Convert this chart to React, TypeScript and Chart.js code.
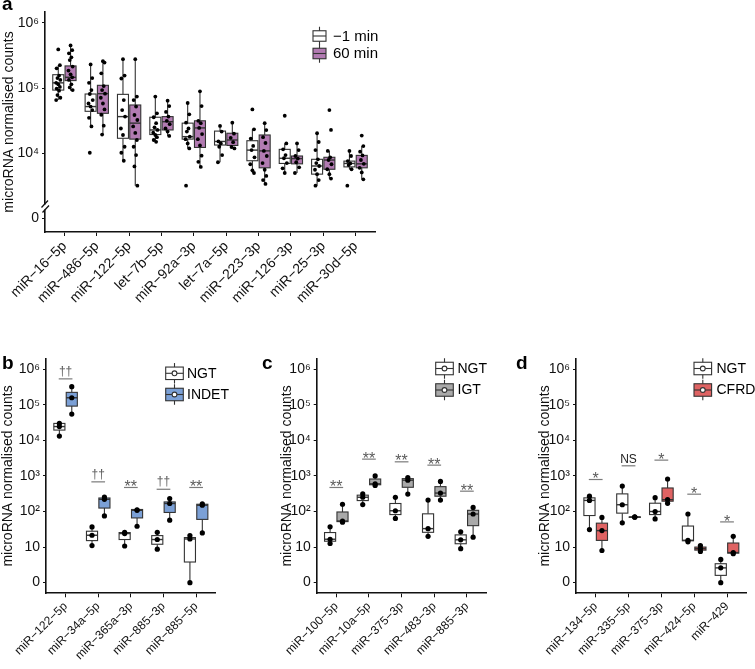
import React, { useEffect, useRef } from 'react';
import { Chart, registerables } from 'chart.js';
Chart.register(...registerables);

const FONT = '"Liberation Sans", Arial, Helvetica, sans-serif';
const M = '\u2212';

// ---------------- Panel a data ----------------
const catsA = [`miR${M}16${M}5p`, `miR${M}486${M}5p`, `miR${M}122${M}5p`, `let${M}7b${M}5p`, `miR${M}92a${M}3p`,
  `let${M}7a${M}5p`, `miR${M}223${M}3p`, `miR${M}126${M}3p`, `miR${M}25${M}3p`, `miR${M}30d${M}5p`];
// [whisker low, Q1, median, Q3, whisker high]
const statsPre = [
  [65500, 93000, 120000, 160000, 224000],
  [25800, 44000, 52000, 81000, 230000],
  [7700, 17000, 36500, 80000, 277000],
  [15000, 19400, 22800, 35700, 74000],
  [11900, 16500, 18000, 29000, 59000],
  [7300, 13400, 15200, 21900, 26300],
  [5000, 7700, 11200, 15600, 23300],
  [5000, 7000, 8400, 11500, 14200],
  [3200, 4800, 6400, 8100, 20300],
  [5700, 6200, 7000, 7600, 10900],
];
const statsPost = [
  [91000, 130000, 146000, 218000, 450000],
  [19400, 41000, 82000, 110000, 258000],
  [3200, 16500, 29000, 55000, 277000],
  [18500, 22800, 30500, 36500, 64000],
  [6200, 12300, 24500, 31500, 89000],
  [11900, 13200, 16000, 20300, 29500],
  [3400, 6000, 10900, 19100, 29000],
  [5000, 6900, 8300, 9100, 14200],
  [4100, 5700, 7900, 8700, 10900],
  [4000, 6000, 6900, 9300, 12900],
];
const pointsPre = [
  [390000, 224000, 200000, 155000, 142000, 133000, 120000, 114000, 104000, 98000, 91000, 78000, 71000, 65500],
  [230000, 142000, 120000, 93000, 81000, 65500, 58000, 52000, 46000, 35000, 25800, 10200],
  [277000, 155000, 140000, 65500, 46000, 36500, 24000, 19100, 12600, 10200, 7700],
  [74000, 41000, 35700, 29000, 25000, 22800, 20700, 19100, 17700, 16000, 15000],
  [59000, 39600, 29500, 24000, 21500, 18000, 16500, 14200, 11900, 3200],
  [26300, 21500, 15200, 14200, 12600, 9400, 7300],
  [47000, 23300, 16800, 13000, 11200, 8700, 6800, 5500, 5000],
  [37600, 14200, 11500, 9400, 8400, 7100, 5900, 5000],
  [20300, 14900, 11200, 8100, 7100, 6400, 5600, 4800, 3900, 3200],
  [10900, 9100, 7600, 7000, 6600, 5700, 3200],
];
const pointsPost = [
  [450000, 380000, 340000, 295000, 268000, 213000, 185000, 162000, 146000, 133000, 114000, 102000, 93000],
  [258000, 245000, 168000, 107000, 93000, 82000, 71000, 58000, 47000, 39000, 26500, 19400],
  [277000, 74000, 65500, 52000, 38600, 32400, 25800, 20500, 16000, 12600, 9400, 6300, 3200],
  [64000, 53000, 43000, 36500, 31500, 28000, 24000, 21500, 18500],
  [89000, 53000, 31500, 29000, 24500, 19700, 16500, 13200, 9200, 7400, 6200],
  [29500, 20000, 17300, 14800, 12500, 11900],
  [29000, 22700, 17700, 14400, 10900, 9100, 7100, 5600, 4500, 3900, 3400],
  [14200, 11200, 9100, 8300, 7300, 6100, 5000],
  [46000, 22800, 10900, 8700, 7900, 6800, 5700, 4800, 4100],
  [18700, 12900, 10600, 9300, 7900, 6900, 6000, 5100, 4000],
];
const ticksA = [1e3, 1e4, 1e5, 1e6];
const tickLabelsA = ['0', '10\u2074', '10\u2075', '10\u2076'];

// ---------------- Panels b-d shared ticks ----------------
const ticksBD = [1, 10, 100, 1e3, 1e4, 1e5, 1e6];
const tickLabelsBD = ['0', '10', '10\u00B2', '10\u00B3', '10\u2074', '10\u2075', '10\u2076'];

// ---------------- Panel b ----------------
const catsB = [`miR${M}122${M}5p`, `miR${M}34a${M}5p`, `miR${M}365a${M}3p`, `miR${M}885${M}3p`, `miR${M}885${M}5p`];
const statsNgtB = [
  [13200, 19500, 24500, 30000, 30000],
  [11, 15.2, 21.5, 27.9, 36.8],
  [10.7, 16.3, 24, 25.6, 26],
  [8.7, 12, 16.3, 21, 26],
  [0, 3.8, 16.9, 18.5, 21],
];
const statsIndetB = [
  [55000, 92000, 158000, 224000, 324000],
  [75, 125, 220, 240, 255],
  [38.5, 66, 108, 114, 115],
  [57, 94, 168, 186, 232],
  [25, 60, 150, 160, 165],
];
const pointsNgtB = [[30000, 24500, 13200], [36.8, 21.5, 11], [26, 24, 10.7], [26, 16.3, 8.7], [21, 16.9, 0]];
const pointsIndetB = [[324000, 158000, 55000], [255, 220, 75], [112, 108, 38.5], [232, 168, 57], [165, 150, 25]];
const sigTextB = ['\u2020\u2020', '\u2020\u2020', '**', '\u2020\u2020', '**'];
const sigLevelB = [537000, 682, 474, 422, 474];

// ---------------- Panel c ----------------
const catsC = [`miR${M}100${M}5p`, `miR${M}10a${M}5p`, `miR${M}375${M}3p`, `miR${M}483${M}3p`, `miR${M}885${M}3p`];
const statsNgtC = [
  [12.6, 14.6, 16.6, 25.6, 37],
  [157, 203, 252, 288, 313],
  [64, 82, 105, 168, 250],
  [20, 26, 33, 86, 210],
  [9, 12.4, 16, 22, 27],
];
const statsIgtC = [
  [50, 52, 54, 97, 160],
  [540, 565, 600, 820, 1000],
  [310, 480, 760, 840, 900],
  [210, 269, 330, 500, 700],
  [19, 40, 85, 108, 130],
];
const pointsNgtC = [[37, 16.6, 12.6], [313, 252, 157], [250, 105, 64], [210, 33, 20], [27, 16, 9]];
const pointsIgtC = [[160, 54, 50], [1000, 600, 540], [900, 760, 310], [700, 330, 210], [130, 85, 19]];
const sigTextC = ['**', '**', '**', '**', '**'];
const sigLevelC = [474, 2972, 2495, 2014, 373];

// ---------------- Panel d ----------------
const catsD = [`miR${M}134${M}5p`, `miR${M}335${M}5p`, `miR${M}375${M}3p`, `miR${M}424${M}5p`, `miR${M}429`];
const statsNgtD = [
  [31, 77, 205, 242, 270],
  [48, 90, 155, 313, 520],
  [62, 82, 100, 171, 245],
  [14, 15, 15.5, 39, 85],
  [0, 1.6, 2.6, 3.4, 4.5],
];
const statsCfrdD = [
  [8, 15.4, 29, 47, 68],
  [68, 69, 70, 70.5, 71],
  [170, 195, 215, 459, 820],
  [7.5, 8.2, 9, 10, 11],
  [6.5, 6.75, 7, 13, 20],
];
const pointsNgtD = [[270, 205, 31], [520, 155, 48], [245, 100, 62], [85, 15.5, 14], [4.5, 2.6, 0]];
const pointsCfrdD = [[68, 29, 8], [71, 70, 69], [820, 215, 170], [11, 9, 7.5], [20, 7, 6.5]];
const sigTextD = ['*', 'NS', '*', '*', '*'];
const sigLevelD = [794, 1928, 2786, 307, 51];

// ---------------- Styles ----------------
const C_WHITE = '#FFFFFF';
const C_PURPLE = '#B27BB2';
const C_BLUE = '#7BA0D6';
const C_GRAY = '#A9A9A9';
const C_RED = '#DF6363';
const STROKE = '#333333';
const INK = '#111111';

const BOX_W = 0.34;
const DODGE = 0.19;
const JIT = [0, 0.05, -0.05, 0.025, -0.025, 0.065, -0.065];

type Group = { name: string; fill: string; stats: number[][]; points: number[][] };
type Panel = {
  letter: string; letterX: number; letterY: number;
  left: number; top: number; w: number; h: number;
  area: { l: number; t: number; r: number; b: number };
  cats: string[]; groups: Group[];
  yMin: number; yMax: number; yTicks: number[]; yLabels: string[];
  titlePad: number; xFont: number; yFont: number;
  pointRadius: number; jitter: boolean; boxLine: number;
  breakAt?: number;
  sigText?: string[]; sigLevel?: number[];
  legend: { x: number; w: number; ys: number[]; h: number; textX: number; font: number; circle: boolean; whisk: number };
};

const panels: Panel[] = [
  {
    letter: 'a', letterX: 2, letterY: 10,
    left: 0, top: 0, w: 380, h: 330,
    area: { l: 45, t: 12, r: 375, b: 232 },
    cats: catsA,
    groups: [
      { name: `${M}1 min`, fill: C_WHITE, stats: statsPre, points: pointsPre },
      { name: '60 min', fill: C_PURPLE, stats: statsPost, points: pointsPost },
    ],
    yMin: 624, yMax: 1.46e6, yTicks: ticksA, yLabels: tickLabelsA,
    titlePad: 0.6, xFont: 14, yFont: 14, pointRadius: 1.9, jitter: true, boxLine: 1.1,
    breakAt: 1585,
    legend: { x: 313, w: 13, ys: [36, 53.5], h: 10.5, textX: 333, font: 15, circle: false, whisk: 4 },
  },
  {
    letter: 'b', letterX: 2, letterY: 369,
    left: 0, top: 340, w: 250, h: 329,
    area: { l: 46, t: 358.6, r: 215.7, b: 593.3 },
    cats: catsB,
    groups: [
      { name: 'NGT', fill: C_WHITE, stats: statsNgtB, points: pointsNgtB },
      { name: 'INDET', fill: C_BLUE, stats: statsIndetB, points: pointsIndetB },
    ],
    yMin: 0.501, yMax: 1.995e6, yTicks: ticksBD, yLabels: tickLabelsBD,
    titlePad: 0, xFont: 12, yFont: 14, pointRadius: 2.6, jitter: false, boxLine: 1.1,
    sigText: sigTextB, sigLevel: sigLevelB,
    legend: { x: 165.7, w: 17.6, ys: [373.3, 394.5], h: 12.5, textX: 187, font: 14, circle: true, whisk: 4 },
  },
  {
    letter: 'c', letterX: 262, letterY: 369,
    left: 250, top: 340, w: 250, h: 329,
    area: { l: 316.7, t: 358.6, r: 486.5, b: 593.3 },
    cats: catsC,
    groups: [
      { name: 'NGT', fill: C_WHITE, stats: statsNgtC, points: pointsNgtC },
      { name: 'IGT', fill: C_GRAY, stats: statsIgtC, points: pointsIgtC },
    ],
    yMin: 0.501, yMax: 1.995e6, yTicks: ticksBD, yLabels: tickLabelsBD,
    titlePad: 29, xFont: 12, yFont: 14, pointRadius: 2.6, jitter: false, boxLine: 1.1,
    sigText: sigTextC, sigLevel: sigLevelC,
    legend: { x: 435.7, w: 17.6, ys: [368.5, 390], h: 12.5, textX: 457.5, font: 14, circle: true, whisk: 4 },
  },
  {
    letter: 'd', letterX: 516, letterY: 369,
    left: 500, top: 340, w: 255, h: 329,
    area: { l: 576, t: 358.6, r: 746.7, b: 593.3 },
    cats: catsD,
    groups: [
      { name: 'NGT', fill: C_WHITE, stats: statsNgtD, points: pointsNgtD },
      { name: 'CFRD', fill: C_RED, stats: statsCfrdD, points: pointsCfrdD },
    ],
    yMin: 0.501, yMax: 1.995e6, yTicks: ticksBD, yLabels: tickLabelsBD,
    titlePad: 36.6, xFont: 12, yFont: 14, pointRadius: 2.6, jitter: false, boxLine: 1.1,
    sigText: sigTextD, sigLevel: sigLevelD,
    legend: { x: 694, w: 17.6, ys: [368.5, 390], h: 12.5, textX: 716.5, font: 14, circle: true, whisk: 4 },
  },
];

function groupOffset(gi: number) {
  return gi === 0 ? -DODGE : DODGE;
}

function makePlugin(p: Panel) {
  return {
    id: 'boxes_' + p.letter,
    beforeDatasetsDraw(chart: any) {
      const ctx = chart.ctx as CanvasRenderingContext2D;
      const xs = chart.scales.x;
      const ys = chart.scales.y;
      const Y = (v: number) => ys.getPixelForValue(Math.max(v, 1));
      const half = xs.getPixelForValue(BOX_W / 2) - xs.getPixelForValue(0);
      ctx.save();
      p.groups.forEach((g, gi) => {
        g.stats.forEach((s, i) => {
          const xc = xs.getPixelForValue(i + groupOffset(gi));
          const [lo, q1, med, q3, hi] = s;
          ctx.strokeStyle = STROKE;
          ctx.lineWidth = p.boxLine;
          ctx.beginPath();
          ctx.moveTo(xc, Y(hi));
          ctx.lineTo(xc, Y(q3));
          ctx.moveTo(xc, Y(q1));
          ctx.lineTo(xc, Y(lo));
          ctx.stroke();
          const top = Y(q3);
          const bot = Y(q1);
          ctx.fillStyle = g.fill;
          ctx.fillRect(xc - half, top, 2 * half, Math.max(bot - top, 0.5));
          ctx.strokeRect(xc - half, top, 2 * half, Math.max(bot - top, 0.5));
          ctx.beginPath();
          ctx.lineWidth = p.boxLine + 0.3;
          ctx.moveTo(xc - half, Y(med));
          ctx.lineTo(xc + half, Y(med));
          ctx.stroke();
        });
      });
      ctx.restore();
    },
    afterDraw(chart: any) {
      const ctx = chart.ctx as CanvasRenderingContext2D;
      const xs = chart.scales.x;
      const ys = chart.scales.y;
      const ox = p.left;
      const oy = p.top;
      ctx.save();
      // panel letter
      ctx.fillStyle = '#000';
      ctx.font = `bold 19px ${FONT}`;
      ctx.textAlign = 'left';
      ctx.textBaseline = 'alphabetic';
      ctx.fillText(p.letter, p.letterX - ox, p.letterY - oy);

      // axis break
      if (p.breakAt) {
        const yb = ys.getPixelForValue(p.breakAt);
        const xb = chart.chartArea.left;
        ctx.fillStyle = '#fff';
        ctx.fillRect(xb - 2, yb - 1, 4, 5);
        ctx.strokeStyle = INK;
        ctx.lineWidth = 1.3;
        ctx.beginPath();
        ctx.moveTo(xb - 3.5, yb + 2);
        ctx.lineTo(xb + 3, yb - 5);
        ctx.moveTo(xb - 2.5, yb + 7);
        ctx.lineTo(xb + 4, yb);
        ctx.stroke();
      }

      // significance marks
      if (p.sigText && p.sigLevel) {
        p.sigText.forEach((t, i) => {
          const y = ys.getPixelForValue(p.sigLevel![i]);
          const x0 = xs.getPixelForValue(i - 0.21);
          const x1 = xs.getPixelForValue(i + 0.21);
          const xc = xs.getPixelForValue(i);
          ctx.strokeStyle = '#7a7a7a';
          ctx.lineWidth = 1.2;
          ctx.beginPath();
          ctx.moveTo(x0, y);
          ctx.lineTo(x1, y);
          ctx.stroke();
          ctx.fillStyle = '#5a5a5a';
          ctx.textAlign = 'center';
          ctx.textBaseline = 'alphabetic';
          if (t.indexOf('*') >= 0) {
            ctx.font = `16px ${FONT}`;
            ctx.fillText(t, xc, y + 4.6);
          } else if (t === 'NS') {
            ctx.font = `12px ${FONT}`;
            ctx.fillStyle = '#222';
            ctx.fillText(t, xc, y - 3);
          } else {
            ctx.font = `12px ${FONT}`;
            ctx.fillText(t, xc, y - 4);
          }
        });
      }

      // legend
      const L = p.legend;
      p.groups.forEach((g, gi) => {
        const cy = L.ys[gi] - oy;
        const x = L.x - ox;
        const h = L.h;
        ctx.strokeStyle = STROKE;
        ctx.lineWidth = 1.1;
        ctx.beginPath();
        ctx.moveTo(x + L.w / 2, cy - h / 2 - L.whisk);
        ctx.lineTo(x + L.w / 2, cy + h / 2 + L.whisk);
        ctx.stroke();
        ctx.fillStyle = g.fill;
        ctx.fillRect(x, cy - h / 2, L.w, h);
        ctx.strokeRect(x, cy - h / 2, L.w, h);
        ctx.beginPath();
        ctx.moveTo(x, cy);
        ctx.lineTo(x + L.w, cy);
        ctx.stroke();
        if (L.circle) {
          ctx.beginPath();
          ctx.arc(x + L.w / 2, cy, 2.4, 0, Math.PI * 2);
          ctx.fillStyle = '#fff';
          ctx.fill();
          ctx.stroke();
        }
        ctx.fillStyle = '#000';
        ctx.font = `${L.font}px ${FONT}`;
        ctx.textAlign = 'left';
        ctx.textBaseline = 'middle';
        ctx.fillText(g.name, L.textX - ox, cy + 0.5);
      });
      ctx.restore();
    },
  };
}

function buildConfig(p: Panel): any {
  const area = { l: p.area.l - p.left, t: p.area.t - p.top, r: p.area.r - p.left, b: p.area.b - p.top };
  const datasets = p.groups.map((g, gi) => ({
    type: 'scatter',
    label: g.name,
    data: g.points.flatMap((pts, i) =>
      pts.map((v, k) => ({ x: i + groupOffset(gi) + (p.jitter ? JIT[k % JIT.length] : 0), y: Math.max(v, 1) }))
    ),
    pointRadius: p.pointRadius,
    pointHoverRadius: p.pointRadius,
    pointBackgroundColor: '#000',
    pointBorderWidth: 0,
    showLine: false,
  }));
  const n = p.cats.length;
  return {
    type: 'scatter',
    data: { datasets },
    options: {
      responsive: false,
      animation: false,
      events: [],
      layout: { padding: { left: 0, top: area.t, right: p.w - area.r, bottom: 0 } },
      plugins: { legend: { display: false }, tooltip: { enabled: false }, title: { display: false } },
      scales: {
        x: {
          type: 'linear',
          min: -0.6,
          max: n - 0.4,
          afterBuildTicks: (s: any) => {
            s.ticks = p.cats.map((_, i) => ({ value: i }));
          },
          afterFit: (s: any) => {
            s.height = p.h - area.b;
          },
          ticks: {
            autoSkip: false,
            maxRotation: 45,
            minRotation: 45,
            padding: 2,
            color: INK,
            font: { family: FONT, size: p.xFont },
            callback: (v: any) => p.cats[Math.round(Number(v))] ?? '',
          },
          grid: { drawOnChartArea: false, drawTicks: true, tickLength: 4, color: INK, lineWidth: 1 },
          border: { display: true, color: INK, width: 1.6 },
        },
        y: {
          type: 'logarithmic',
          min: p.yMin,
          max: p.yMax,
          bounds: 'data',
          afterBuildTicks: (s: any) => {
            s.ticks = p.yTicks.map((v) => ({ value: v }));
          },
          afterFit: (s: any) => {
            s.width = area.l;
          },
          ticks: {
            autoSkip: false,
            padding: 3,
            color: INK,
            font: { family: FONT, size: p.yFont },
            callback: (v: any) => {
              const idx = p.yTicks.indexOf(Number(v));
              return idx >= 0 ? p.yLabels[idx] : '';
            },
          },
          grid: { drawOnChartArea: false, drawTicks: true, tickLength: 3, color: INK, lineWidth: 1 },
          border: { display: true, color: INK, width: 1.6 },
          title: {
            display: true,
            text: 'microRNA normalised counts',
            color: INK,
            font: { family: FONT, size: 14 },
            padding: { top: p.titlePad, bottom: 0 },
          },
        },
      },
    },
    plugins: [makePlugin(p)],
  };
}

function PanelCanvas({ p }: { p: Panel }) {
  const ref = useRef<HTMLCanvasElement>(null);
  useEffect(() => {
    const chart = new Chart(ref.current as HTMLCanvasElement, buildConfig(p));
    return () => chart.destroy();
  }, [p]);
  return (
    <canvas
      ref={ref}
      width={p.w}
      height={p.h}
      style={{ position: 'absolute', left: p.left, top: p.top, width: p.w, height: p.h }}
    />
  );
}

export default function App() {
  return (
    <div style={{ position: 'absolute', left: 0, top: 0, width: 755, height: 669, background: '#fff', overflow: 'hidden' }}>
      {panels.map((p) => (
        <PanelCanvas key={p.letter} p={p} />
      ))}
    </div>
  );
}
